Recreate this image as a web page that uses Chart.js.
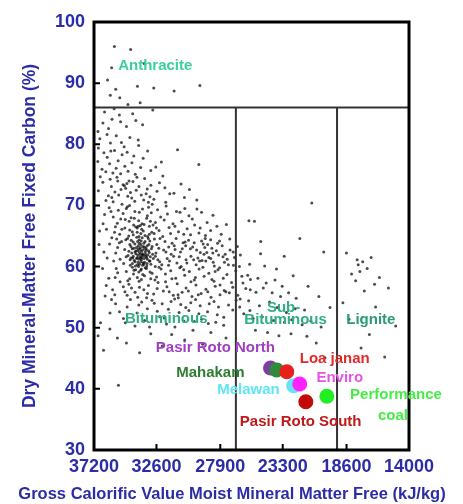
<!DOCTYPE html>
<html>
<head>
<meta charset="utf-8">
<script src="https://cdn.jsdelivr.net/npm/chart.js@4"></script>
<style>
  html, body { margin: 0; padding: 0; background: #fff; }
  #wrap { width: 463px; height: 504px; position: relative; }
</style>
</head>
<body>
<div id="wrap"><canvas id="chart"></canvas></div>
<script>
// axis ticks
const xTicks = [37200, 32600, 27900, 23300, 18600, 14000];
const yTicks = [30, 40, 50, 60, 70, 80, 90, 100];
const xTitle = 'Gross Calorific Value Moist Mineral Matter Free (kJ/kg)';

// rank boundaries (fixed carbon %, calorific value kJ/kg)
const rankLimitY = 86;
const rankLimitsX = [26750, 19300];

// background coal database cloud [kJ/kg, FC %]
const cloudPoints = [
  // anthracite
  [35700,96],[34500,95.5],[36200,90.5],[35600,89],[34000,89.5],[32800,89.2],[31300,88.7],[29400,89.6],
  [36000,88],[35300,87.6],[34700,86.5],[33800,86.8],[35900,92.5],[33500,93.2],
  // 80-86
  [36420,85.3],[35870,84.1],[35240,83.7],[36130,82.6],[34810,82.9],[35560,81.4],[36770,80.9],[34350,85.0],
  [33620,83.2],[35180,80.3],[32870,85.6],[33940,80.7],[36540,83.5],[35990,80.2],[34560,81.1],[35720,85.8],
  [36910,82.1],[34120,83.9],[35330,84.8],[36240,81.6],
  // 75-80
  [36880,79.4],[35690,79.0],[34760,78.7],[36230,77.9],[35420,77.3],[33580,77.7],[32240,77.1],[34930,76.4],
  [36610,75.9],[33020,75.7],[35810,75.3],[34160,75.1],[31050,79.1],[29480,76.7],[33910,79.8],[36050,76.8],
  [35130,78.3],[34410,77.0],[36470,78.6],[33250,78.9],[35570,76.1],[34690,75.6],[32650,76.3],[36920,77.2],
  [35960,78.9],[34980,79.6],[33760,76.2],[35240,75.2],[36330,75.5],[34270,78.1],
  // 70-75
  [36740,74.7],[35510,74.6],[34620,74.0],[33470,74.4],[32380,73.7],[35920,73.1],[34870,72.8],[34090,72.5],
  [33280,72.7],[31980,72.9],[31310,72.0],[35380,71.7],[34420,71.2],[33720,71.7],[32790,71.0],[31920,70.5],
  [36320,70.8],[35140,70.2],[34580,70.0],[33190,70.5],[30540,71.3],[29630,70.9],[32130,74.8],[30790,73.5],
  [36880,72.4],[35060,73.4],[34960,73.2],[34780,73.6],[35210,72.6],[34330,73.9],[35660,72.2],[36140,71.6],
  [33890,73.1],[34710,71.5],[33540,70.9],[32560,72.3],[35790,70.6],[36550,73.8],[34200,70.7],[33010,73.3],
  [35450,74.0],[34040,74.6],[31620,71.9],[30170,72.6],[32910,70.2],[35890,71.3],[34510,72.1],[33360,71.9],
  [36010,74.3],[33080,71.4],
  // 65-70
  [36080,69.6],[35410,69.2],[34820,69.5],[34190,69.0],[33630,69.4],[32980,68.8],[32520,69.3],[31790,68.6],
  [31130,69.0],[30210,68.3],[29280,68.9],[28440,68.4],[35780,68.1],[35230,67.8],[34470,68.0],[33910,67.5],
  [33320,67.9],[32680,67.2],[32030,67.6],[31380,67.0],[30730,67.4],[29790,66.8],[28870,67.2],[36530,67.0],
  [35620,66.5],[34930,66.3],[34280,66.8],[33690,66.1],[33120,66.6],[32410,65.9],[31670,66.4],[30980,65.7],
  [30340,66.2],[29470,65.5],[28610,65.9],[27830,65.3],[35310,65.3],[34640,65.0],[34020,65.6],[33440,65.1],
  [32770,65.4],[32140,64.9],[36790,65.8],[35060,68.7],[34610,67.4],[33860,68.9],[33510,66.9],[33270,68.3],
  [34130,66.5],[34740,69.8],[35480,67.1],[32850,66.8],[32290,68.1],[31560,65.4],[30510,69.5],[29960,67.8],
  [28150,66.6],[34380,65.7],[33750,65.4],[33050,67.4],[34900,67.7],[35950,69.0],[36280,66.1],[33180,69.7],
  [31890,69.9],[30870,68.9],[29620,69.4],[33660,67.0],[34230,67.9],[35150,66.1],[32600,66.3],[31240,66.6],
  [34570,66.0],[33940,66.6],[32950,65.6],[35690,65.6],[30090,65.2],[28990,65.1],[27450,66.9],[36420,68.5],
  // 60-65 (core)
  [35890,64.7],[35170,64.1],[34730,64.6],[34320,64.0],[33870,64.4],[33530,63.8],[33090,64.2],[32580,63.6],
  [31970,64.1],[31290,63.4],[30640,63.9],[29930,63.2],[29160,63.7],[28520,63.0],[27760,63.4],[27180,62.7],
  [35460,63.1],[34940,62.8],[34480,63.3],[34110,62.6],[33790,63.1],[33420,62.4],[32970,62.9],[32640,62.2],
  [32070,62.7],[31520,62.0],[30830,62.4],[30060,61.7],[29370,62.3],[28740,61.5],[28020,61.9],[27390,61.2],
  [34690,61.8],[34340,61.4],[33980,61.9],[33710,61.1],[33390,61.7],[33120,60.9],[32830,61.3],[32360,60.8],
  [31810,61.3],[31090,60.6],[30420,61.1],[29680,60.3],[28970,60.9],[28340,60.1],[27590,60.7],[26930,60.2],
  [36230,61.4],[35020,60.5],[34530,60.2],[34170,60.8],[33920,60.0],[33580,60.6],[33310,60.1],[33010,60.4],
  [32690,60.0],[32210,60.3],[31640,60.9],[30920,61.6],[35600,62.2],[36050,63.7],[33850,62.3],[33620,62.1],
  [33280,63.4],[34420,62.2],[32920,63.3],[33230,61.9],[34050,64.8],[33750,63.6],[33470,60.7],[34240,61.0],
  [33270,61.2],[33840,60.4],[33560,62.8],[33160,63.6],[34630,62.5],[32880,62.0],[34460,64.3],[33970,62.6],
  [33680,61.5],[33350,62.7],[34070,61.3],[33940,63.4],[33510,61.3],[33790,62.0],[34270,63.0],[33440,64.1],
  [32750,64.5],[33050,61.6],[34370,60.5],[33650,64.7],[34000,60.3],[33200,64.6],[32500,61.1],[31900,62.4],
  [31450,63.8],[30700,62.9],[30240,64.3],[29550,61.4],[29010,64.6],[28190,62.6],[27950,64.2],[26850,61.5],
  [35280,61.2],[35750,60.9],[36470,62.4],[34830,61.6],[35330,63.9],[34860,64.4],[32340,64.6],[31710,60.2],
  [30360,60.6],[29820,63.9],[28610,64.4],[27540,62.0],[26640,63.3],[29240,61.0],[32430,63.0],[31150,64.6],
  [30490,64.0],[28890,62.3],[33880,64.9],[34190,63.7],[33370,63.0],[33130,62.3],[33730,64.2],[34540,61.1],
  [32680,61.7],[29040,63.1],[28420,60.7],[27200,64.5],[26420,61.9],[36830,63.6],[35530,64.5],[31340,61.7],
  [33820,61.6],[33690,62.5],[33560,61.8],[33930,62.9],[34120,62.1],[33410,62.0],[33730,60.8],[34010,61.5],
  [33600,63.3],[33890,61.2],[33330,61.5],[34180,62.4],[33780,62.8],[33480,63.2],[34310,61.7],[33620,60.2],
  [33940,60.7],[33180,62.6],[34080,63.1],[33530,60.4],[33760,61.4],[33860,63.8],[34390,62.9],[33290,60.5],
  [33650,61.9],[34150,60.1],[33990,64.1],[33430,59.8],[33710,59.6],[34260,59.4],[33080,60.9],[33900,59.1],
  [34480,61.4],[33250,64.9],[33570,65.8],[34020,66.3],[34310,65.2],[33790,66.7],[34560,63.6],[33120,65.3],
  [30100,62.9],[29640,62.7],[29280,64.2],[28830,63.6],[28450,62.2],[28100,63.8],[29860,61.1],[29420,60.9],
  [28600,61.3],[30450,63.4],[27700,61.6],[27300,60.3],[26950,62.4],[28280,59.2],[29100,62.0],[30780,60.0],
  [31230,62.8],[31700,63.2],[30590,65.3],[29380,66.3],
  // 55-60
  [34820,59.2],[34290,58.8],[33760,59.4],[33480,58.5],[33070,59.1],[32590,58.3],[31940,58.8],[31180,58.1],
  [30520,58.6],[29810,57.8],[29090,58.4],[28360,57.6],[27680,58.1],[27070,57.4],[36570,59.7],[35640,58.2],
  [34130,59.5],[33710,57.9],[34570,58.0],[35280,57.5],[34630,57.1],[33880,57.6],[33190,56.9],[32480,57.4],
  [31830,56.7],[31070,57.2],[30420,56.5],[29690,57.0],[28960,56.3],[28270,56.8],[27610,56.1],[26980,56.6],
  [35830,56.2],[34920,55.9],[34180,55.8],[33530,56.2],[32810,55.5],[32090,56.0],[31360,55.3],[30710,55.8],
  [29980,55.1],[29310,55.6],[28580,55.0],[27920,55.4],[27230,55.7],[34370,59.9],[33340,59.7],[32920,58.9],
  [32260,59.6],[31550,59.3],[30880,59.8],[30180,59.2],[29460,59.6],[28740,58.9],[28070,59.5],[27410,58.7],
  [26760,59.3],[26230,57.3],[25880,58.6],[33020,58.0],[33610,58.7],[34010,58.2],[32710,57.8],[31460,58.0],
  [30060,57.5],[28520,57.9],[27920,57.0],[35460,59.0],[36110,58.1],[35040,56.7],[34440,56.5],[33260,55.6],
  [32550,56.4],[31660,55.9],[30250,56.0],[29520,55.4],[28820,55.9],[27490,55.9],[26610,55.3],[25690,56.2],
  [36300,56.9],[35670,55.4],[34760,55.3],[33980,55.0],[31930,57.5],[31010,55.4],[30590,59.5],[29180,59.9],
  [27950,59.8],[26490,60.0],[32410,59.9],[33850,56.6],[34710,57.7],[35560,59.7],[29730,58.2],
  // 50-55
  [34520,54.6],[33690,54.2],[32930,54.5],[32180,53.9],[31520,54.3],[30810,53.8],[30070,54.1],[29380,53.6],
  [28710,53.9],[28030,53.4],[27290,53.7],[33270,53.1],[32540,52.7],[31720,53.0],[30930,52.5],[30210,52.8],
  [29480,52.3],[28840,52.6],[28120,52.1],[35610,53.9],[36380,55.2],[34030,52.4],[35030,51.5],[33470,51.2],
  [32020,51.6],[30580,51.1],[29270,51.4],[28230,50.9],[34180,50.3],[31240,50.1],[27650,50.4],[36720,50.8],
  [35320,52.6],[34760,53.4],[33900,53.7],[32760,54.0],[31260,54.7],[29720,54.6],[28360,54.3],[26730,54.5],
  [26980,52.9],[27640,51.7],[29810,51.0],[31860,50.6],[33110,50.1],[34890,50.8],[36020,52.4],[30440,53.3],
  [26470,53.4],[25720,52.8],[35910,54.6],[33330,54.9],[32350,51.8],[30990,54.9],[28780,50.7],
  // 45-50
  [29910,49.6],[28590,49.2],[36030,49.8],[33020,49.0],[35480,48.3],[34810,47.5],[30520,48.0],[35400,40.6],
  [32180,47.0],[36500,46.3],[31480,48.9],[27480,48.3],[33840,45.9],[36900,48.7],[29200,47.3],
  // sub-bituminous
  [26310,58.4],[25680,57.9],[25130,58.1],[24520,57.3],[23870,57.8],[23340,56.8],[26020,56.4],[25270,55.8],
  [24730,56.5],[24080,55.7],[23460,55.1],[22870,55.7],[22310,54.8],[26440,54.7],[25810,54.4],[25020,53.6],
  [24270,54.2],[23720,53.3],[23030,52.5],[22380,53.1],[21690,52.9],[26170,52.3],[25480,51.5],[24810,51.8],
  [23980,51.2],[23170,50.9],[22640,51.3],[21870,50.5],[21230,51.1],[20470,50.1],[25310,49.6],[24420,49.2],
  [23580,48.7],[22690,49.0],[21520,48.6],[20830,47.5],[21160,70.4],[22040,64.6],[23190,61.7],[20280,62.4],
  [25740,60.4],[24630,60.1],[22530,58.5],[19820,53.3],[20190,45.1],[25790,67.5],[25380,67.4],[24920,64.1],
  [24930,62.1],[23760,59.6],[21430,56.8],[20640,55.1],
  // lignite
  [18610,62.2],[17820,61.1],[17740,60.3],[17410,60.8],[17080,59.7],[18230,58.8],[16790,61.5],[17930,57.7],
  [16180,58.2],[15520,56.5],[17290,56.0],[18870,54.1],[16460,53.4],[14980,50.3],[16920,48.9],[17530,46.7],
  [15790,45.2],[18420,51.4],[17620,59.2],[16540,57.1]
];

// highlighted coals
const coalNames  = ['Loa janan', 'Mahakam', 'Pasir Roto North', 'Enviro', 'Melawan', 'Pasir Roto South', 'Performance coal'];
const coalX      = [23000, 23750, 24200, 22050, 22500, 21600, 20050];
const coalY      = [42.8, 43.1, 43.4, 40.8, 40.5, 37.9, 38.8];
const coalColors = ['#e8201c', '#2f8a3a', '#7d3fa3', '#ff22ff', '#66e4f2', '#c20a0a', '#22ee22'];

// text labels on the plot
const labelTexts  = ['Anthracite', 'Bituminous', 'Sub-', 'Bituminous', 'Lignite',
                     'Pasir Roto North', 'Mahakam', 'Loa janan', 'Enviro', 'Melawan',
                     'Performance', 'coal', 'Pasir Roto South'];
const labelX      = [32690, 31880, 23240, 23090, 16810, 28260, 28630, 19470, 19100, 25820, 14960, 15180, 21980];
const labelY      = [92.8, 51.4, 53.2, 51.3, 51.3, 46.7, 42.6, 44.9, 41.8, 39.8, 39.0, 35.6, 34.6];
const labelColors = ['#3ccf9e', '#2fae84', '#2fae84', '#2fae84', '#2a9a72', '#a040c0', '#2e7d32', '#e02a2a',
                     '#e455e4', '#5fe6f4', '#44ee44', '#44ee44', '#c01818'];

const axisBlue = '#2c2ca6';
const fontFamily = '"Liberation Sans", Arial, sans-serif';

const coalDatasets = coalNames.map((name, i) => ({
  label: name,
  data: [{ x: coalX[i], y: coalY[i] }],
  pointRadius: 7.5,
  pointBackgroundColor: coalColors[i],
  pointBorderWidth: 0,
  showLine: false,
  order: i
}));

const framePlugin = {
  id: 'frameAndLabels',
  afterDatasetsDraw(chart) {
    const { ctx, chartArea: a, scales: { x, y } } = chart;
    ctx.save();
    // rank boundaries
    ctx.strokeStyle = '#333';
    ctx.lineWidth = 2;
    const yb = y.getPixelForValue(rankLimitY);
    ctx.beginPath();
    ctx.moveTo(a.left, yb);
    ctx.lineTo(a.right, yb);
    rankLimitsX.forEach(v => {
      const px = x.getPixelForValue(v);
      ctx.moveTo(px, yb);
      ctx.lineTo(px, a.bottom);
    });
    ctx.stroke();
    // inward ticks
    ctx.strokeStyle = '#000';
    ctx.beginPath();
    yTicks.forEach(v => {
      const py = y.getPixelForValue(v);
      ctx.moveTo(a.left, py);
      ctx.lineTo(a.left + 6, py);
    });
    xTicks.forEach(v => {
      const px = x.getPixelForValue(v);
      ctx.moveTo(px, a.bottom);
      ctx.lineTo(px, a.bottom - 6);
    });
    ctx.stroke();
    // frame
    ctx.lineWidth = 3;
    ctx.strokeRect(a.left, a.top, a.right - a.left, a.bottom - a.top);
    // labels
    ctx.font = 'bold 15px ' + fontFamily;
    ctx.textAlign = 'center';
    ctx.textBaseline = 'middle';
    labelTexts.forEach((t, i) => {
      ctx.fillStyle = labelColors[i];
      ctx.fillText(t, x.getPixelForValue(labelX[i]), y.getPixelForValue(labelY[i]));
    });
    // x axis title, wider than the plot area so drawn here
    ctx.font = 'bold 16.5px ' + fontFamily;
    ctx.fillStyle = axisBlue;
    ctx.fillText(xTitle, 232, x.bottom - 10);
    ctx.restore();
  }
};

new Chart(document.getElementById('chart'), {
  type: 'scatter',
  data: {
    datasets: [
      ...coalDatasets,
      {
        label: 'database',
        data: cloudPoints.map(p => ({ x: p[0], y: p[1] })),
        pointRadius: 1.5,
        pointBackgroundColor: 'rgba(0,0,0,0.7)',
        pointBorderWidth: 0,
        order: 20
      }
    ]
  },
  options: {
    responsive: true,
    maintainAspectRatio: false,
    animation: false,
    events: [],
    layout: { padding: { top: 22, right: 54, left: 0, bottom: 0 } },
    plugins: { legend: { display: false }, tooltip: { enabled: false } },
    scales: {
      x: {
        type: 'linear',
        reverse: true,
        min: 14000,
        max: 37200,
        afterBuildTicks: s => { s.ticks = xTicks.map(v => ({ value: v })); },
        afterFit: s => { s.height = 54; },
        grid: { display: false, drawTicks: false },
        border: { display: false },
        ticks: {
          color: axisBlue,
          font: { family: fontFamily, size: 18, weight: 'bold' },
          padding: 6,
          maxRotation: 0,
          autoSkip: false,
          callback: v => String(v)
        }
      },
      y: {
        min: 30,
        max: 100,
        afterBuildTicks: s => { s.ticks = yTicks.map(v => ({ value: v })); },
        afterFit: s => { s.width = 94; },
        grid: { display: false, drawTicks: false },
        border: { display: false },
        ticks: {
          color: axisBlue,
          font: { family: fontFamily, size: 18, weight: 'bold' },
          padding: 9,
          callback: v => String(v)
        },
        title: {
          display: true,
          text: 'Dry Mineral-Matter Free Fixed Carbon (%)',
          color: axisBlue,
          font: { family: fontFamily, size: 17.5, weight: 'bold' },
          padding: { top: 20, bottom: 0 }
        }
      }
    }
  },
  plugins: [framePlugin]
});
</script>
</body>
</html>
